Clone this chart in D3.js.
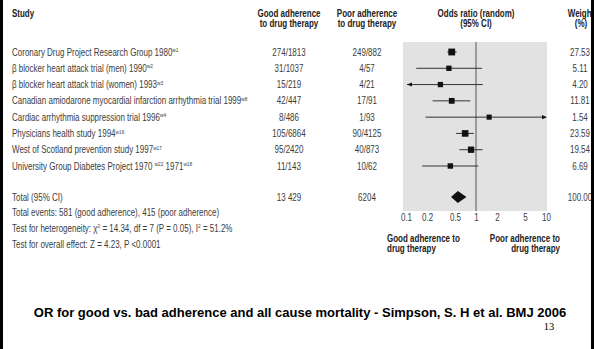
<!DOCTYPE html>
<html>
<head>
<meta charset="utf-8">
<script src="https://cdn.jsdelivr.net/npm/d3@7"></script>
<style>
  body { margin: 0; background: #fff; }
  svg { display: block; }
  .n { font-family: "Liberation Sans", Arial, sans-serif; font-size: 10px; fill: #3c3c3c; }
  .b { font-weight: bold; fill: #222; }
</style>
</head>
<body>
<script>
const width = 594;
const height = 349;

// data
const studies = [
  [["Coronary Drug Project Research Group 1980", "w1"]],
  [["\u03b2 blocker heart attack trial (men) 1990", "w2"]],
  [["\u03b2 blocker heart attack trial (women) 1993", "w3"]],
  [["Canadian amiodarone myocardial infarction arrhythmia trial 1999", "w8"]],
  [["Cardiac arrhythmia suppression trial 1996", "w4"]],
  [["Physicians health study 1994", "w16"]],
  [["West of Scotland prevention study 1997", "w17"]],
  [["University Group Diabetes Project 1970 ", "w22"], [" 1971", "w18"]],
];
const goodAdh = ["274/1813", "31/1037", "15/219", "42/447", "8/486", "105/6864", "95/2420", "11/143"];
const poorAdh = ["249/882", "4/57", "4/21", "17/91", "1/93", "90/4125", "40/873", "10/62"];
const oddsRatio = [0.45, 0.41, 0.31, 0.45, 1.54, 0.70, 0.85, 0.43];
const ciLow = [0.39, 0.14, 0.09, 0.24, 0.19, 0.52, 0.58, 0.17];
const ciHigh = [0.53, 1.22, 1.25, 0.83, 12.5, 0.93, 1.24, 1.08];
const weights = ["27.53", "5.11", "4.20", "11.81", "1.54", "23.59", "19.54", "6.69"];
const total = { good: "13 429", poor: "6204", or: 0.55, lo: 0.44, hi: 0.73, weight: "100.00" };
const ticks = [0.1, 0.2, 0.5, 1, 2, 5, 10];

const svg = d3.select("body").append("svg")
  .attr("width", width)
  .attr("height", height);

// the figure uses a narrow font: squeeze Arial-like text horizontally
const squeeze = 0.8;
const place = (px, py) => `translate(${px},${py}) scale(${squeeze},1)`;
function addText(g, px, py, str, anchor = "start") {
  return g.append("text")
    .attr("transform", place(px, py))
    .attr("dy", "0.35em")
    .attr("text-anchor", anchor)
    .text(str);
}

// scales
const x = d3.scaleLog().domain([0.1, 10]).range([406, 546]);
const y = d3.scalePoint().domain(d3.range(studies.length)).range([52, 166]);
const boxSize = d3.scaleLinear().domain([0, 30]).range([5, 7]);
const yTotal = 197;
const colStudy = 12, colGood = 289, colPoor = 367, colWeight = 580;

// panel
svg.append("rect")
  .attr("x", x(0.1) - 3).attr("y", 42)
  .attr("width", x(10) - x(0.1) + 4).attr("height", 169)
  .attr("fill", "#e2e2e2");

svg.append("line")
  .attr("x1", x(1)).attr("x2", x(1))
  .attr("y1", 42).attr("y2", 211)
  .attr("stroke", "#555").attr("stroke-width", 1);

// headers
const hdr = svg.append("g").attr("class", "n b");
addText(hdr, colStudy, 13, "Study");
[[colGood, ["Good adherence", "to drug therapy"]],
 [colPoor, ["Poor adherence", "to drug therapy"]],
 [x(1), ["Odds ratio (random)", "(95% CI)"]],
 [colWeight + 1, ["Weight", "(%)"]]].forEach(([cx, lines]) => {
  lines.forEach((t, i) => addText(hdr, cx, 13 + i * 10.5, t, "middle"));
});

// study rows
const rows = svg.append("g").attr("class", "n");
studies.forEach((parts, i) => {
  const t = rows.append("text").attr("transform", place(colStudy, y(i))).attr("dy", "0.35em");
  parts.forEach(([txt, sup]) => {
    t.append("tspan").text(txt);
    t.append("tspan").attr("font-size", "6px").attr("baseline-shift", "3.5px").text(sup);
  });
});
[[goodAdh, colGood], [poorAdh, colPoor], [weights, colWeight]].forEach(([vals, cx]) => {
  rows.append("g").selectAll("text").data(vals).join("text")
    .attr("transform", (d, i) => place(cx, y(i)))
    .attr("dy", "0.35em")
    .attr("text-anchor", "middle")
    .text((d) => d);
});

// CI lines with arrows when clipped
const [dMin, dMax] = x.domain();
const marks = svg.append("g");
oddsRatio.forEach((or, i) => {
  const yy = y(i);
  const lo = Math.max(ciLow[i], dMin);
  const hi = Math.min(ciHigh[i], dMax);
  marks.append("line")
    .attr("x1", x(lo) + (ciLow[i] < dMin ? 1 : 0))
    .attr("x2", x(hi) - (ciHigh[i] > dMax ? 1 : 0))
    .attr("y1", yy).attr("y2", yy)
    .attr("stroke", "#333").attr("stroke-width", 1);
  if (ciLow[i] < dMin) {
    marks.append("path")
      .attr("d", `M${x(lo) + 1},${yy} l5,-2 l0,4 Z`).attr("fill", "#111");
  }
  if (ciHigh[i] > dMax) {
    marks.append("path")
      .attr("d", `M${x(hi) + 1},${yy} l-5,-2.2 l0,4.4 Z`).attr("fill", "#111");
  }
  const s = boxSize(+weights[i]);
  marks.append("rect")
    .attr("x", x(or) - s / 2).attr("y", yy - s / 2)
    .attr("width", s).attr("height", s)
    .attr("fill", "#111");
});

// total diamond
marks.append("path")
  .attr("d", `M${x(total.lo)},${yTotal} L${x(total.or)},${yTotal - 6} L${x(total.hi)},${yTotal} L${x(total.or)},${yTotal + 6} Z`)
  .attr("fill", "#111");

// total rows
addText(rows, colStudy, yTotal, "Total (95% CI)");
addText(rows, colGood, yTotal, total.good, "middle");
addText(rows, colPoor, yTotal, total.poor, "middle");
addText(rows, colWeight, yTotal, total.weight, "middle");

addText(rows, colStudy, 212, "Total events: 581 (good adherence), 415 (poor adherence)");
const het = rows.append("text").attr("transform", place(colStudy, 228)).attr("dy", "0.35em");
het.append("tspan").text("Test for heterogeneity: \u03c7");
het.append("tspan").attr("font-size", "6px").attr("baseline-shift", "3.5px").text("2");
het.append("tspan").text(" = 14.34, df = 7 (P = 0.05), I");
het.append("tspan").attr("font-size", "6px").attr("baseline-shift", "3.5px").text("2");
het.append("tspan").text(" = 51.2%");
addText(rows, colStudy, 244, "Test for overall effect: Z = 4.23, P <0.0001");

// axis tick labels
const axisG = svg.append("g").attr("transform", "translate(0,212)");
axisG.call(d3.axisBottom(x).tickValues(ticks).tickSize(0).tickFormat(d3.format("~g")));
axisG.select(".domain").remove();
axisG.attr("font-size", null).attr("font-family", null);
axisG.selectAll("text")
  .attr("class", "n").attr("fill", null)
  .attr("font-size", "10.5px")
  .attr("y", 2).attr("dy", "0.71em")
  .attr("transform", `scale(${squeeze},1)`);

// direction labels
const dir = svg.append("g").attr("class", "n b");
addText(dir, 387, 238, "Good adherence to");
addText(dir, 387, 248, "drug therapy");
addText(dir, 560, 238, "Poor adherence to", "end");
addText(dir, 560, 248, "drug therapy", "end");

// frame
svg.append("rect").attr("x", 0).attr("y", 0).attr("width", 3).attr("height", height).attr("fill", "#000");
svg.append("rect").attr("x", 591).attr("y", 0).attr("width", 3).attr("height", height).attr("fill", "#000");

// slide title
svg.append("text")
  .attr("x", 300).attr("y", 317)
  .attr("text-anchor", "middle")
  .attr("font-family", "Liberation Sans, Arial, sans-serif")
  .attr("font-weight", "bold").attr("font-size", "13px")
  .attr("fill", "#000")
  .text("OR for good vs. bad adherence and all cause mortality - Simpson, S. H et al. BMJ 2006");
svg.append("text")
  .attr("x", 549).attr("y", 330)
  .attr("text-anchor", "middle")
  .attr("font-family", "Liberation Serif, Times New Roman, serif")
  .attr("font-size", "10.5px").attr("fill", "#000")
  .text("13");
</script>
</body>
</html>
